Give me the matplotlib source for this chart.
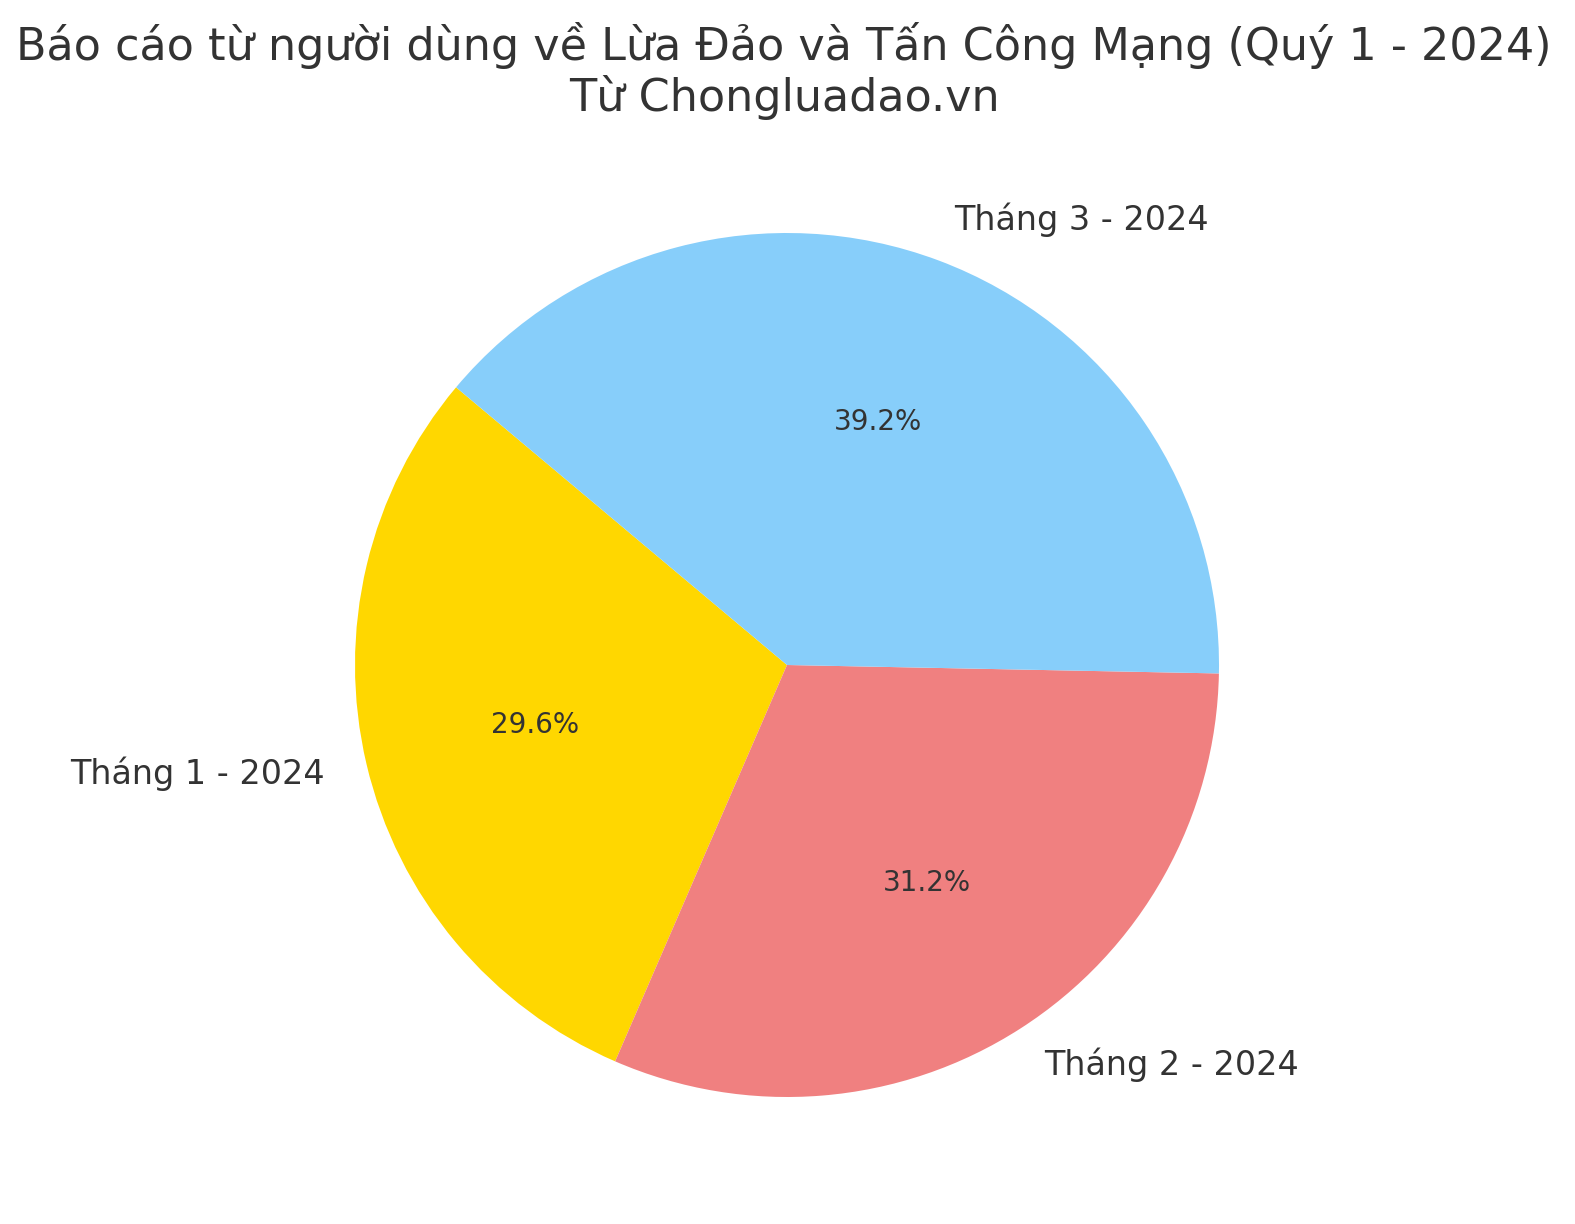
import matplotlib
matplotlib.use("Agg")
import matplotlib.pyplot as plt

labels = ["Tháng 1 - 2024", "Tháng 2 - 2024", "Tháng 3 - 2024"]
values = [29.6, 31.2, 39.2]
colors = ["#FFD700", "#F08080", "#87CEFA"]
title = "Báo cáo từ người dùng về Lừa Đảo và Tấn Công Mạng (Quý 1 - 2024)\nTừ Chongluadao.vn"

plt.rcParams['font.family'] = ['DejaVu Sans']
text_color = "#333333"

fig = plt.figure(figsize=(7.875, 6.12), dpi=200)
W, H = 1575, 1224
cx, cy, r = 787, 665, 432
size = 2.5 * r
ax = fig.add_axes([(cx - size / 2) / W, (H - cy - size / 2) / H, size / W, size / H])
wedges, texts, autotexts = ax.pie(values, labels=labels, colors=colors, startangle=140,
                                  autopct="%1.1f%%", textprops={"color": text_color})
for t in texts:
    t.set_fontsize(12)
for t in autotexts:
    t.set_fontsize(10)
ax.set_xlim(-1.25, 1.25)
ax.set_ylim(-1.25, 1.25)
ax.set_aspect("equal")
fig.text(784 / W, 1 - 111 / H, title, ha="center", va="baseline", fontsize=16,
         color=text_color, linespacing=1.16)
fig.savefig("out.png", dpi=200, facecolor="white")
